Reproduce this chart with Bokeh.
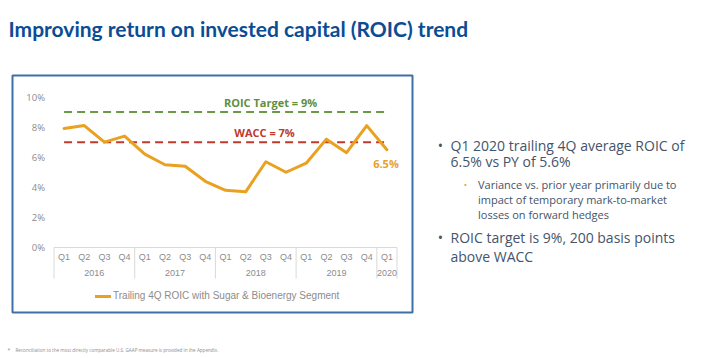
from bokeh.plotting import figure
from bokeh.models import Range1d, Label, Legend, LegendItem
from bokeh.embed import file_html
from bokeh.resources import INLINE

# ---------------- data ----------------
years = ["2016", "2017", "2018", "2019", "2020"]
quarters = [["Q1", "Q2", "Q3", "Q4"], ["Q1", "Q2", "Q3", "Q4"],
            ["Q1", "Q2", "Q3", "Q4"], ["Q1", "Q2", "Q3", "Q4"], ["Q1"]]
roic = [7.9, 8.1, 7.0, 7.4, 6.2, 5.5, 5.4, 4.4, 3.8, 3.7, 5.7, 5.0, 5.6, 7.2, 6.3, 8.1, 6.5]
roic_target = 9.0
wacc = 7.0
y_ticks = [0, 2, 4, 6, 8, 10]
y_tick_labels = ["0%", "2%", "4%", "6%", "8%", "10%"]
series_label = "Trailing 4Q ROIC with Sugar & Bioenergy Segment"
target_label = "ROIC Target = 9%"
wacc_label = "WACC = 7%"
last_label = "6.5%"
title_text = "Improving return on invested capital (ROIC) trend"
bullet1 = ["Q1 2020 trailing 4Q average ROIC of", "6.5% vs PY of 5.6%"]
sub_bullet = ["Variance vs. prior year primarily due to",
              "impact of temporary mark-to-market",
              "losses on forward hedges"]
bullet2 = ["ROIC target is 9%, 200 basis points", "above WACC"]
footnote = "Reconciliation to the most directly comparable U.S. GAAP measure is provided in the Appendix."

# ---------------- styles / layout ----------------
ORANGE = "#e9a11f"
GREEN_LINE = "#6a9a48"
GREEN_TXT = "#5e8f3e"
RED = "#bf3a2b"
GREY = "#8c8c8c"
AXIS_GREY = "#d9d9d9"
BLUE_TITLE = "#0b4d94"
TEXT = "#44546a"
BOX = "#3f6fa6"

W, H = 710, 358
PLOT_X0, PLOT_X1 = 53.5, 396.5     # chart plot area, page pixels
PLOT_TOP, PLOT_BOT = 96.5, 247.0   # pixel rows of 10% and 0%

# categorical slots
flat_q = [q for qs in quarters for q in qs]
n = len(flat_q)
xs = [i + 0.5 for i in range(n)]
slot = (PLOT_X1 - PLOT_X0) / n
k = (PLOT_BOT - PLOT_TOP) / 10.0   # px per percentage point

p = figure(width=W, height=H, x_range=Range1d(0, W), y_range=Range1d(H, 0),
           output_backend="svg", toolbar_location=None,
           x_axis_location=None, y_axis_location=None,
           min_border_left=0, min_border_right=0,
           min_border_top=0, min_border_bottom=0)
p.outline_line_color = None
p.grid.visible = False
p.extra_x_ranges = {"cat": Range1d(-PLOT_X0 / slot, (W - PLOT_X0) / slot)}
p.extra_y_ranges = {"pct": Range1d(-(H - PLOT_BOT) / k, PLOT_BOT / k)}

# ---------------- chart box ----------------
p.quad(left=[12], right=[412], top=[75], bottom=[312], fill_color=None,
       line_color=BOX, line_width=2)

# ---------------- y axis labels ----------------
p.text(x=[PLOT_X0 - 9] * len(y_ticks), y=y_ticks, text=y_tick_labels,
       y_range_name="pct", text_align="right", text_baseline="middle",
       text_font={"value": "Open Sans"}, text_font_size="9.5px",
       text_color=GREY)

# ---------------- x axis ----------------
p.segment(x0=[0], x1=[n], y0=[0], y1=[0], x_range_name="cat",
          y_range_name="pct", line_color=AXIS_GREY, line_width=1)
bounds = [0]
year_x = []
for qs in quarters:
    year_x.append(bounds[-1] + len(qs) / 2.0)
    bounds.append(bounds[-1] + len(qs))
sep_len = 31 / k
p.segment(x0=bounds, x1=bounds, y0=[0] * len(bounds),
          y1=[-sep_len] * len(bounds), x_range_name="cat", y_range_name="pct",
          line_color=AXIS_GREY, line_width=1)
p.text(x=xs, y=[0] * n, text=flat_q, x_range_name="cat", y_range_name="pct",
       y_offset=9.7, text_align="center", text_baseline="middle",
       text_font={"value": "Liberation Sans"}, text_font_size="9px",
       text_color=GREY)
p.text(x=year_x, y=[0] * len(years), text=years, x_range_name="cat",
       y_range_name="pct", y_offset=25.3, text_align="center",
       text_baseline="middle", text_font={"value": "Liberation Sans"},
       text_font_size="9px", text_color=GREY)

# ---------------- series ----------------
p.line(x=xs, y=[roic_target] * n, x_range_name="cat", y_range_name="pct",
       line_color=GREEN_LINE, line_width=2, line_dash="8 5")
p.line(x=xs, y=[wacc] * n, x_range_name="cat", y_range_name="pct",
       line_color=RED, line_width=2, line_dash="8 5")
r = p.line(x=xs, y=roic, x_range_name="cat", y_range_name="pct",
           line_color=ORANGE, line_width=3, line_join="round", line_cap="round")


def txt(text, x, y, size, color, font="Open Sans", style="normal",
        align="left", baseline="alphabetic"):
    p.add_layout(Label(x=x, y=y, text=text, text_font=font,
                       text_font_size=size, text_font_style=style,
                       text_color=color, text_align=align,
                       text_baseline=baseline))


txt(target_label, 270, 101.5, "11px", GREEN_TXT, style="bold", align="center", baseline="middle")
txt(wacc_label, 264, 131.5, "11px", RED, style="bold", align="center", baseline="middle")
txt(last_label, 385.5, 163, "11px", ORANGE, style="bold", align="center", baseline="middle")

legend = Legend(items=[LegendItem(label=series_label, renderers=[r])],
                location=(95, H - 301), orientation="horizontal",
                label_text_font="Liberation Sans", label_text_font_size="10px",
                label_text_color=GREY, glyph_width=16, glyph_height=10,
                label_height=10, label_standoff=2, padding=0, margin=0,
                border_line_color=None, background_fill_alpha=0)
p.add_layout(legend, "center")

# ---------------- title ----------------
txt(title_text, 8, 28.3, "21px", BLUE_TITLE, font="Lato", style="bold")

# ---------------- bullets ----------------
txt("\u2022", 440, 144.5, "14px", TEXT, align="center")
for i, t in enumerate(bullet1):
    txt(t, 450, 144.5 + 16.5 * i, "14px", TEXT)
txt("\u2022", 465, 184.3, "9px", ORANGE, align="center")
for i, t in enumerate(sub_bullet):
    txt(t, 477.5, 184.3 + 15 * i, "11px", TEXT)
txt("\u2022", 440, 236.8, "14px", TEXT, align="center")
for i, t in enumerate(bullet2):
    txt(t, 450, 236.8 + 19.4 * i, "14px", TEXT)

# ---------------- footnote ----------------
txt("*", 7, 349, "5px", GREY, baseline="middle")
txt(footnote, 15, 349, "4.6px", GREY, baseline="middle")

open("out.html", "w").write(file_html(p, INLINE))
